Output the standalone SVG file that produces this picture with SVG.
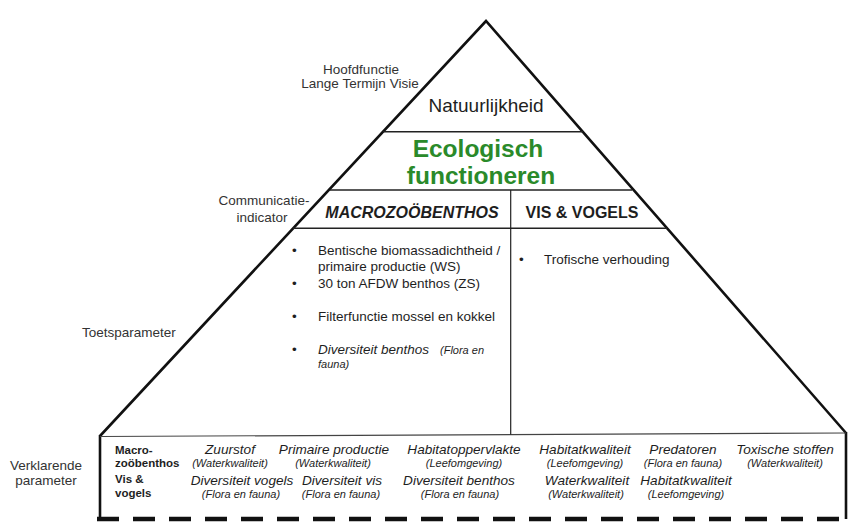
<svg xmlns="http://www.w3.org/2000/svg" width="862" height="526" viewBox="0 0 862 526">
<style>
text{font-family:"Liberation Sans",Arial,sans-serif;fill:#1e1e1e}
.lbl{font-size:13.5px;fill:#333}
.c{text-anchor:middle}
.main{font-size:13.6px;font-style:italic}
.sub{font-size:11px;font-style:italic}
.rowh{font-size:11.5px;font-weight:bold}
.bul{font-size:13.5px}
.thick{stroke:#111;stroke-width:2.6;fill:none;stroke-linejoin:miter}
.thin{stroke:#222;stroke-width:1.4;fill:none}
</style>
<rect width="862" height="526" fill="#fff"/>
<g id="frame">
<path class="thick" d="M100,436 L486,21 L846,433"/>
<path class="thick" d="M100,435 L100,519"/>
<path class="thick" d="M846,432 L846,519"/>
<path d="M100,436.5 L846,433" stroke="#444" stroke-width="1.2" fill="none"/>
<path d="M97,519 L848,519" stroke="#111" stroke-width="4.5" stroke-dasharray="22 14" fill="none"/>
<path class="thin" d="M383,131.7 L583,131.7"/>
<path class="thin" d="M330,190 L632,190"/>
<path class="thin" d="M293,228.3 L667,228.3"/>
<path d="M510.7,190 L510.7,434.5" stroke="#222" stroke-width="1.2" fill="none"/>
</g>
<g id="level-labels">
<text class="lbl c" x="361" y="73.5">Hoofdfunctie</text>
<text class="lbl c" x="360" y="87.5">Lange Termijn Visie</text>
<text class="lbl c" x="264" y="205">Communicatie-</text>
<text class="lbl c" x="262" y="222">indicator</text>
<text class="lbl" x="82" y="337">Toetsparameter</text>
<text class="lbl c" x="46" y="470">Verklarende</text>
<text class="lbl c" x="46" y="485">parameter</text>
</g>
<g id="natuurlijkheid">
<text class="c" x="486" y="112" style="font-size:19px">Natuurlijkheid</text>
</g>
<g id="ecologisch-functioneren">
<text class="c" x="478" y="157" style="font-size:24.5px;font-weight:bold;fill:#2a8a2a">Ecologisch</text>
<text class="c" x="481" y="184" style="font-size:24.5px;font-weight:bold;fill:#2a8a2a">functioneren</text>
</g>
<g id="macrozoobenthos">
<text class="c" x="412" y="218" style="font-size:16px;font-weight:bold;font-style:italic">MACROZOÖBENTHOS</text>
<text class="bul" x="292" y="255">•</text>
<text class="bul" x="318" y="255">Bentische biomassadichtheid /</text>
<text class="bul" x="318" y="271">primaire productie (WS)</text>
<text class="bul" x="292" y="287.5">•</text>
<text class="bul" x="318" y="287.5">30 ton AFDW benthos (ZS)</text>
<text class="bul" x="292" y="321">•</text>
<text class="bul" x="318" y="321">Filterfunctie mossel en kokkel</text>
<text class="bul" x="292" y="354">•</text>
<text class="bul" x="318" y="354" style="font-style:italic">Diversiteit benthos</text>
<text class="sub" x="440" y="354">(Flora en</text>
<text class="sub" x="318" y="368">fauna)</text>
</g>
<g id="vis-vogels">
<text class="c" x="582" y="218" style="font-size:16px;font-weight:bold">VIS &amp; VOGELS</text>
<text class="bul" x="519" y="263.5">•</text>
<text class="bul" x="544" y="263.5">Trofische verhouding</text>
</g>
<g id="verklarende-parameters">
<text class="rowh" x="115" y="454">Macro-</text>
<text class="rowh" x="115" y="467">zoöbenthos</text>
<text class="rowh" x="115" y="483">Vis &amp;</text>
<text class="rowh" x="115" y="496.5">vogels</text>

<text class="main c" x="230" y="454">Zuurstof</text>
<text class="sub c" x="230" y="467">(Waterkwaliteit)</text>
<text class="main c" x="334" y="454">Primaire productie</text>
<text class="sub c" x="333" y="467">(Waterkwaliteit)</text>
<text class="main c" x="464" y="454">Habitatoppervlakte</text>
<text class="sub c" x="464" y="467">(Leefomgeving)</text>
<text class="main c" x="585" y="454">Habitatkwaliteit</text>
<text class="sub c" x="585" y="467">(Leefomgeving)</text>
<text class="main c" x="683" y="454">Predatoren</text>
<text class="sub c" x="683" y="467">(Flora en fauna)</text>
<text class="main c" x="785" y="454">Toxische stoffen</text>
<text class="sub c" x="785" y="467">(Waterkwaliteit)</text>

<text class="main c" x="242" y="485">Diversiteit vogels</text>
<text class="sub c" x="241" y="498">(Flora en fauna)</text>
<text class="main c" x="342" y="485">Diversiteit vis</text>
<text class="sub c" x="341" y="498">(Flora en fauna)</text>
<text class="main c" x="459" y="485">Diversiteit benthos</text>
<text class="sub c" x="460" y="498">(Flora en fauna)</text>
<text class="main c" x="587" y="485">Waterkwaliteit</text>
<text class="sub c" x="586" y="498">(Waterkwaliteit)</text>
<text class="main c" x="686" y="485">Habitatkwaliteit</text>
<text class="sub c" x="686" y="498">(Leefomgeving)</text>
</g>
</svg>
